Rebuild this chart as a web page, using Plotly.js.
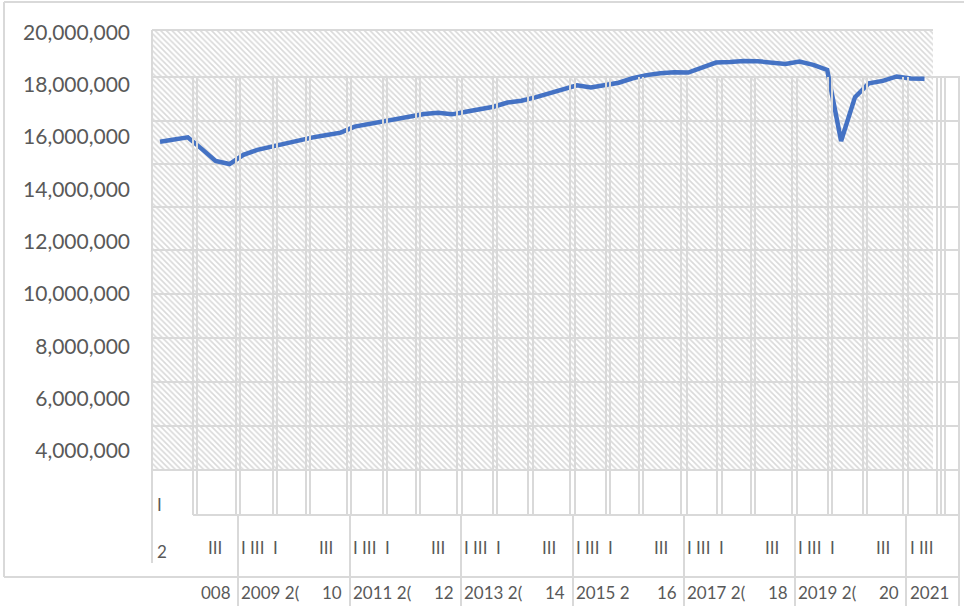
<!DOCTYPE html>
<html>
<head>
<meta charset="utf-8">
<script src="https://cdn.plot.ly/plotly-3.0.1.min.js"></script>
<style>html,body{margin:0;padding:0;background:#fff;}#chart{width:964px;height:606px;}</style>
</head>
<body>
<div id="chart"></div>
<script>
// ---- data ----
const years = [2008, 2009, 2010, 2011, 2012, 2013, 2014, 2015, 2016, 2017, 2018, 2019, 2020, 2021];
const quarterNames = ['I', 'II', 'III', 'IV'];
const categories = years.flatMap(y => quarterNames.map(q => y + ' ' + q));
const values = [
  15820000, 15920000, 15990000, 15550000, 15090000, 14970000, 15320000, 15510000,
  15630000, 15790000, 15890000, 15990000, 16080000, 16170000, 16400000, 16500000,
  16570000, 16680000, 16780000, 16880000, 16930000, 16870000, 16970000, 17060000,
  17160000, 17320000, 17390000, 17520000, 17670000, 17830000, 17980000, 17900000,
  18000000, 18080000, 18250000, 18370000, 18440000, 18480000, 18470000, 18670000,
  18850000, 18870000, 18910000, 18900000, 18870000, 18800000, 18890000, 18760000,
  18570000, 15850000, 17530000, 18060000, 18150000, 18320000, 18240000, 18230000
];
const yTickValues = [4000000, 6000000, 8000000, 10000000, 12000000, 14000000, 16000000, 18000000, 20000000];

// category-row labels as they appear (clipped) in the original
const leftColumnLabels = ['I', '2'];
const quarterRowFirst = 'III';
const quarterRowBlockA = 'I\u00a0III\u00a0\u00a0I';
const quarterRowBlockB = 'III';
const quarterRowLast = 'I\u00a0III';
const yearRowFirst = '008';
const yearRowA = ['2009 2(', '2011 2(', '2013 2(', '2015 2', '2017 2(', '2019 2('];
const yearRowB = ['10', '12', '14', '16', '18', '20'];
const yearRowLast = '2021';

// ---- layout helpers (pixel geometry) ----
const GRID = '#d9d9d9';
const TXT = '#595959';
const FONT = 'Lato, "Open Sans", sans-serif';
const blockStarts = [238, 350, 461, 573, 684, 795];

const shapes = [];
function hl(y, x0, x1, layer) { shapes.push({type: 'line', xref: 'x', yref: 'y', x0: x0, x1: x1, y0: y, y1: y, layer: layer || 'below', line: {color: GRID, width: 2}}); }
function vl(x, y0, y1, layer) { shapes.push({type: 'line', xref: 'x', yref: 'y', x0: x, x1: x, y0: y0, y1: y1, layer: layer || 'above', line: {color: GRID, width: 2}}); }

// outer frame
hl(2, 4, 964); vl(4, 2, 577, 'below');
// horizontal grid
hl(30, 152, 933);
[77, 121, 164, 207, 250, 294, 338, 382, 426, 470].forEach(y => hl(y, 152, 960));
hl(515, 193, 960);
hl(577, 4, 960);
// vertical grid (drawn over the series, as in the original)
vl(152, 30, 563);
[193, 197, 236, 240, 273, 277, 306, 310, 347, 351, 383, 387, 416, 420, 457, 462, 493, 497,
 528, 533, 570, 575, 606, 610, 639, 643, 681, 687, 717, 722, 751, 755, 792, 797, 828, 832,
 863, 867, 903, 908, 937, 941, 945].forEach(x => vl(x, 77, 515));
// category-row separators
blockStarts.concat([906, 959]).forEach(x => vl(x, 515, 606));
vl(959, 77, 515);

// ---- annotations (axis category text) ----
const annotations = [];
function ann(text, x, y, anchor, size) {
  annotations.push({text: text, x: x, y: y, xref: 'x', yref: 'y', xanchor: anchor, yanchor: 'middle',
    showarrow: false, font: {family: FONT, size: size || 17, color: TXT}});
}
ann(leftColumnLabels[0], 155, 504, 'left');
ann(leftColumnLabels[1], 155, 551, 'left');
ann(quarterRowFirst, 215, 547, 'center');
blockStarts.forEach((s, k) => {
  ann(quarterRowBlockA, s + 1, 547, 'left');
  ann(quarterRowBlockB, s + 88, 547, 'center');
  ann(yearRowA[k], s + 1, 592, 'left');
  ann(yearRowB[k], s + 106, 592, 'right');
});
ann(quarterRowLast, 908, 547, 'left');
ann(yearRowFirst, 233, 592, 'right');
ann(yearRowLast, 908, 592, 'left');

// ---- traces ----
const hatch = {
  type: 'scatter', mode: 'lines', xaxis: 'x', yaxis: 'y',
  x: [152, 933, 933, 152, 152], y: [30, 30, 470, 470, 30],
  fill: 'toself', line: {width: 0, color: 'rgba(0,0,0,0)'},
  fillcolor: 'rgba(0,0,0,0)',
  fillpattern: {shape: '\\', size: 4, solidity: 0.4, fgcolor: '#d9d9d9', bgcolor: 'rgba(0,0,0,0)'},
  hoverinfo: 'skip', showlegend: false
};
const series = {
  type: 'scatter', mode: 'lines', xaxis: 'x2', yaxis: 'y2',
  x: categories, y: values,
  line: {color: '#4472C4', width: 4.5},
  showlegend: false
};

const layout = {
  width: 964, height: 606,
  margin: {l: 0, r: 0, t: 0, b: 0},
  paper_bgcolor: '#ffffff', plot_bgcolor: 'rgba(0,0,0,0)',
  showlegend: false,
  xaxis: {domain: [0, 1], range: [0, 964], visible: false, fixedrange: true},
  yaxis: {domain: [0, 1], range: [606, 0], visible: false, fixedrange: true},
  xaxis2: {domain: [152 / 964, 960 / 964], anchor: 'y2', type: 'category', categoryorder: 'array', categoryarray: categories,
    range: [-0.5755, 57.554], showgrid: false, zeroline: false, showline: false, showticklabels: false, ticks: ''},
  yaxis2: {domain: [1 - 515 / 606, 1 - 30 / 606], anchor: 'x2', range: [1549000, 20095600],
    tickvals: yTickValues, tickformat: ',d', showgrid: false, zeroline: false, showline: false, ticks: '',
    ticklabelstandoff: 21, tickfont: {family: FONT, size: 21, color: TXT}},
  shapes: shapes,
  annotations: annotations
};

Plotly.newPlot('chart', [hatch, series], layout, {displayModeBar: false, staticPlot: true});
</script>
</body>
</html>
